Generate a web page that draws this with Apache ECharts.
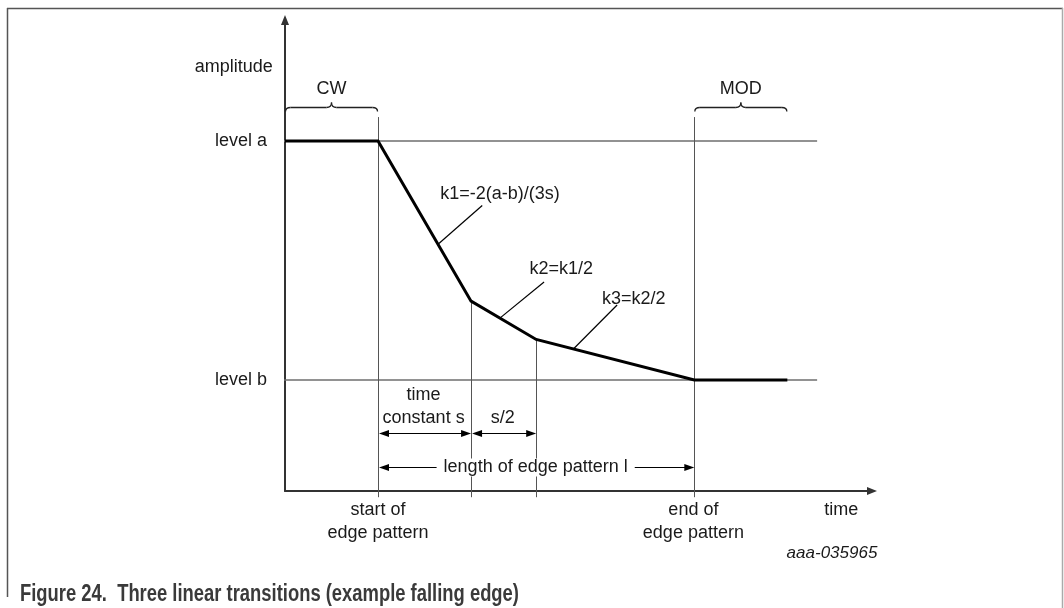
<!DOCTYPE html>
<html>
<head>
<meta charset="utf-8">
<script src="https://cdn.jsdelivr.net/npm/echarts@6/dist/echarts.min.js"></script>
<style>
  html, body { margin: 0; padding: 0; background: #fff; }
  #chart { width: 1064px; height: 608px; }
</style>
</head>
<body>
<div id="chart"></div>
<script>
// signal corners: time in units of s, amplitude in % of (a - b), level b = 0
const time = [0, 1, 2, 2.7, 4.4, 5.4];
const amplitude = [100, 100, 33, 17, 0, 0];

const levelNames = ['level a', 'level b'];
const levelValues = [100, 0];
const levelSpan = [-0.09, 5.72];

// vertical guides (time, top amplitude), all run down past the time axis
const guideTimes = [1, 2, 2.7, 4.4];
const guideTops = [110, 33, 17, 110];
const guideBottom = -49;

const slopeLabels = ['k1=-2(a-b)/(3s)', 'k2=k1/2', 'k3=k2/2'];
const slopeLabelTime = [2.31, 2.97, 3.75];
const slopeLabelAmp = [78, 46.4, 34];
const leaderTopTime = [2.12, 2.785, 3.57];
const leaderTopAmp = [73, 41, 31.4];
const leaderFootTime = [1.645, 2.31, 3.1];

const braceNames = ['CW', 'MOD'];
const braceFrom = [0, 4.4];
const braceTo = [1, 5.4];
const braceAmp = 114;

const spanNames = ['', '', 'length of edge pattern l'];
const spanFrom = [1, 2, 1];
const spanTo = [2, 2.7, 4.4];
const spanAmp = [-22.2, -22.2, -36.4];

const noteTexts = ['amplitude', 'time\nconstant s', 's/2', 'start of\nedge pattern', 'end of\nedge pattern', 'time'];
const noteTime = [-0.55, 1.49, 2.34, 1, 4.39, 5.98];
const noteAmp = [131, -11.1, -15.9, -59.2, -59.2, -54.4];

const FONT = '18px "Liberation Sans", Arial, sans-serif';
const INK = '#1a1a1a';

function signalAt(t) {
  for (let i = 1; i < time.length; i++) {
    if (t <= time[i]) {
      const f = (t - time[i - 1]) / (time[i] - time[i - 1]);
      return amplitude[i - 1] + f * (amplitude[i] - amplitude[i - 1]);
    }
  }
  return amplitude[amplitude.length - 1];
}

const crisp = (v) => Math.round(v) + 0.5;

const axisCommon = {
  axisLine: {
    onZero: false,
    symbol: ['none', 'triangle'],
    symbolSize: [8, 10],
    lineStyle: { color: '#333', width: 2 },
  },
  axisTick: { show: false },
  axisLabel: { show: false },
  splitLine: { show: false },
};

const chart = echarts.init(document.getElementById('chart'));

chart.setOption({
  animation: false,
  backgroundColor: '#fff',
  grid: { left: 285, top: 20, width: 587, height: 471 },
  xAxis: { type: 'value', min: 0, max: 6.31, ...axisCommon },
  yAxis: { type: 'value', min: -46.4, max: 150.6, ...axisCommon },
  graphic: [
    { type: 'line', shape: { x1: 7, y1: 8.5, x2: 1063, y2: 8.5 }, style: { stroke: '#555', lineWidth: 1.5 } },
    { type: 'line', shape: { x1: 7.5, y1: 8, x2: 7.5, y2: 597 }, style: { stroke: '#555', lineWidth: 1.5 } },
    { type: 'line', shape: { x1: 1062.5, y1: 8, x2: 1062.5, y2: 608 }, style: { stroke: '#aaa', lineWidth: 1.5 } },
    {
      type: 'text', x: 832, y: 553,
      style: { text: 'aaa-035965', font: 'italic 17px "Liberation Sans", Arial, sans-serif', fill: INK, align: 'center', verticalAlign: 'middle' },
    },
    {
      type: 'text', x: 20, y: 595, scaleX: 0.8,
      style: { text: 'Figure 24.  Three linear transitions (example falling edge)', font: 'bold 23px "Liberation Sans", Arial, sans-serif', fill: '#3a3a3a', align: 'left', verticalAlign: 'middle' },
    },
  ],
  series: [
    // level lines
    ...levelValues.map((v) => ({
      type: 'line',
      clip: false,
      symbol: 'none',
      silent: true,
      z: 1,
      lineStyle: { color: '#6e6e6e', width: 1.5 },
      data: [[levelSpan[0], v], [levelSpan[1], v]],
    })),
    // level names
    {
      type: 'custom',
      z: 3,
      data: levelValues,
      renderItem: (params, api) => {
        const p = api.coord([-0.194, levelValues[params.dataIndex]]);
        return {
          type: 'text', x: p[0], y: p[1],
          style: { text: levelNames[params.dataIndex], font: FONT, fill: INK, align: 'right', verticalAlign: 'middle' },
        };
      },
    },
    // vertical guides
    {
      type: 'custom',
      z: 2,
      data: guideTimes.map((t, i) => [t, guideTops[i]]),
      renderItem: (params, api) => {
        const top = api.coord([api.value(0), api.value(1)]);
        const bottom = api.coord([api.value(0), guideBottom]);
        const x = crisp(top[0]);
        return {
          type: 'line',
          shape: { x1: x, y1: top[1], x2: x, y2: bottom[1] },
          style: { stroke: '#555', lineWidth: 1 },
        };
      },
    },
    // the falling edge
    {
      type: 'line',
      clip: false,
      symbol: 'none',
      silent: true,
      z: 5,
      lineStyle: { color: '#000', width: 3, join: 'miter' },
      data: time.map((t, i) => [t, amplitude[i]]),
    },
    // slope labels with leaders
    {
      type: 'custom',
      z: 4,
      data: slopeLabels.map((s, i) => [leaderTopTime[i], leaderTopAmp[i]]),
      renderItem: (params, api) => {
        const i = params.dataIndex;
        const top = api.coord([leaderTopTime[i], leaderTopAmp[i]]);
        const foot = api.coord([leaderFootTime[i], signalAt(leaderFootTime[i])]);
        const lp = api.coord([slopeLabelTime[i], slopeLabelAmp[i]]);
        return {
          type: 'group',
          children: [
            { type: 'line', shape: { x1: top[0], y1: top[1], x2: foot[0], y2: foot[1] }, style: { stroke: '#000', lineWidth: 1.2 } },
            { type: 'text', x: lp[0], y: lp[1], style: { text: slopeLabels[i], font: FONT, fill: INK, align: 'center', verticalAlign: 'middle' } },
          ],
        };
      },
    },
    // braces
    {
      type: 'custom',
      z: 4,
      data: braceNames.map((n, i) => [braceFrom[i], braceTo[i]]),
      renderItem: (params, api) => {
        const i = params.dataIndex;
        const a = api.coord([braceFrom[i], braceAmp]);
        const b = api.coord([braceTo[i], braceAmp]);
        const y = a[1];
        const x0 = a[0] + 0.5;
        const x1 = b[0] - 0.5;
        const xm = (x0 + x1) / 2;
        const r = 5;
        const style = { stroke: '#222', lineWidth: 1.3, fill: null };
        return {
          type: 'group',
          children: [
            { type: 'bezierCurve', shape: { x1: x0, y1: y + 4, cpx1: x0, cpy1: y, x2: x0 + r, y2: y }, style },
            { type: 'line', shape: { x1: x0 + r, y1: y, x2: xm - r, y2: y }, style },
            { type: 'bezierCurve', shape: { x1: xm - r, y1: y, cpx1: xm, cpy1: y, x2: xm, y2: y - r }, style },
            { type: 'bezierCurve', shape: { x1: xm, y1: y - r, cpx1: xm, cpy1: y, x2: xm + r, y2: y }, style },
            { type: 'line', shape: { x1: xm + r, y1: y, x2: x1 - r, y2: y }, style },
            { type: 'bezierCurve', shape: { x1: x1 - r, y1: y, cpx1: x1, cpy1: y, x2: x1, y2: y + 4 }, style },
            { type: 'text', x: xm, y: y - 18, style: { text: braceNames[i], font: FONT, fill: INK, align: 'center', verticalAlign: 'middle' } },
          ],
        };
      },
    },
    // dimension arrows
    {
      type: 'custom',
      z: 4,
      data: spanFrom.map((t, i) => [t, spanTo[i]]),
      renderItem: (params, api) => {
        const i = params.dataIndex;
        const a = api.coord([spanFrom[i], spanAmp[i]]);
        const b = api.coord([spanTo[i], spanAmp[i]]);
        const y = crisp(a[1]);
        const x0 = a[0] + 1;
        const x1 = b[0];
        const head = { fill: '#000' };
        const children = [
          { type: 'line', shape: { x1: x0 + 4, y1: y, x2: x1 - 4, y2: y }, style: { stroke: '#000', lineWidth: 1.2 } },
          { type: 'polygon', shape: { points: [[x0, y], [x0 + 10, y - 3.5], [x0 + 10, y + 3.5]] }, style: head },
          { type: 'polygon', shape: { points: [[x1, y], [x1 - 10, y - 3.5], [x1 - 10, y + 3.5]] }, style: head },
        ];
        if (spanNames[i]) {
          children.push({
            type: 'text', x: (x0 + x1) / 2 - 1, y: y,
            style: { text: spanNames[i], font: FONT, fill: INK, align: 'center', verticalAlign: 'middle', backgroundColor: '#fff', padding: [0, 7] },
          });
        }
        return { type: 'group', children };
      },
    },
    // free text notes
    {
      type: 'custom',
      z: 4,
      data: noteTime.map((t, i) => [t, noteAmp[i]]),
      renderItem: (params, api) => {
        const i = params.dataIndex;
        const p = api.coord([noteTime[i], noteAmp[i]]);
        return {
          type: 'text', x: p[0], y: p[1],
          style: { text: noteTexts[i], font: FONT, fill: INK, align: 'center', verticalAlign: 'middle', lineHeight: 23 },
        };
      },
    },
  ],
});
</script>
</body>
</html>
